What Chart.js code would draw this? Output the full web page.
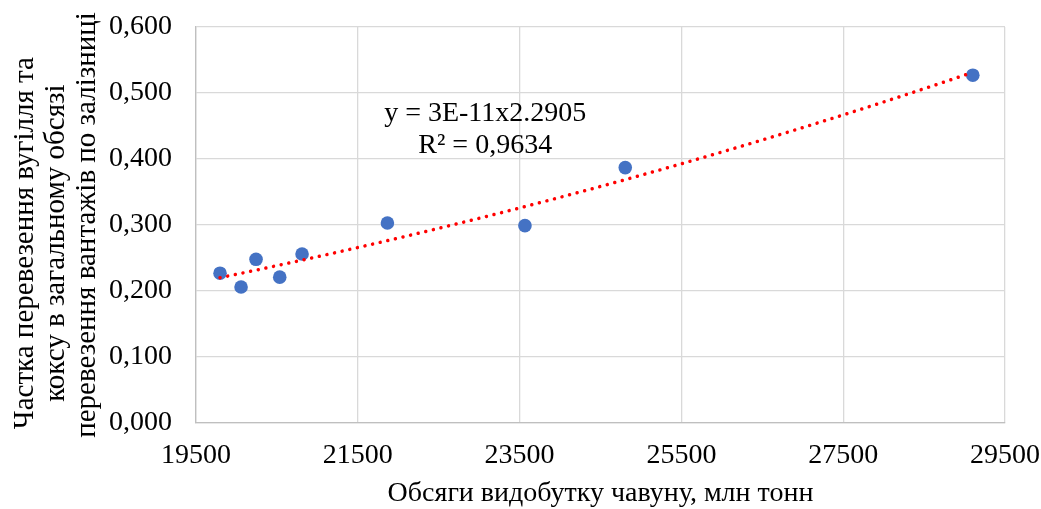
<!DOCTYPE html>
<html>
<head>
<meta charset="utf-8">
<script src="https://cdn.jsdelivr.net/npm/chart.js@4"></script>
<style>
html, body { margin: 0; padding: 0; background: #fff; }
#wrap { width: 1041px; height: 509px; }
</style>
</head>
<body>
<div id="wrap"><canvas id="chart"></canvas></div>
<script>
// обсяги видобутку чавуну (x) and частка вугілля/коксу (y)
const ironOutput = [19797, 20057, 20242, 20535, 20811, 21866, 23566, 24806, 29102];
const coalShare = [0.227, 0.206, 0.248, 0.221, 0.256, 0.303, 0.299, 0.387, 0.527];

const xTicks = [19500, 21500, 23500, 25500, 27500, 29500];
const yTicks = [0, 0.1, 0.2, 0.3, 0.4, 0.5, 0.6];

const xTitle = 'Обсяги видобутку чавуну, млн тонн';
const yTitle = ['Частка перевезення вугілля та     ', 'коксу в загальному обсязі     ', 'перевезення вантажів по залізниці'];
const eqText = ['y = 3E-11x2.2905', 'R² = 0,9634'];

// power trendline fitted on the points (log-log least squares)
let n = ironOutput.length, sx = 0, sy = 0, sxx = 0, sxy = 0;
for (let i = 0; i < n; i++) {
  const lx = Math.log(ironOutput[i]), ly = Math.log(coalShare[i]);
  sx += lx; sy += ly; sxx += lx * lx; sxy += lx * ly;
}
const pw = (n * sxy - sx * sy) / (n * sxx - sx * sx);
const coef = Math.exp((sy - pw * sx) / n);
const xMin = Math.min(...ironOutput), xMax = Math.max(...ironOutput);
let trend = [];
for (let k = 0; k <= 80; k++) {
  const x = xMin + (xMax - xMin) * k / 80;
  trend.push({ x: x, y: coef * Math.pow(x, pw) });
}

let points = [];
for (let i = 0; i < n; i++) {
  points.push({ x: ironOutput[i], y: coalShare[i] });
}

const FONT = "'Liberation Serif', 'Times New Roman', serif";
const txtFont = { family: FONT, size: 28, lineHeight: 1.1 };

// equation label, placed in data units
const eqPlugin = {
  id: 'eq',
  afterDatasetsDraw(chart) {
    const ctx = chart.ctx;
    const xs = chart.scales.x, ys = chart.scales.y;
    ctx.save();
    ctx.font = '28px ' + FONT;
    ctx.fillStyle = '#000';
    ctx.textAlign = 'center';
    ctx.textBaseline = 'middle';
    ctx.fillText(eqText[0], xs.getPixelForValue(23075), ys.getPixelForValue(0.469));
    ctx.fillText(eqText[1], xs.getPixelForValue(23075), ys.getPixelForValue(0.4205));
    ctx.restore();
  }
};

new Chart(document.getElementById('chart'), {
  type: 'scatter',
  data: {
    datasets: [
      {
        type: 'line',
        data: trend,
        borderColor: '#ff0000',
        borderWidth: 3.5,
        borderDash: [0.01, 7.8],
        borderCapStyle: 'round',
        pointRadius: 0,
        fill: false,
        tension: 0,
        order: 0
      },
      {
        data: points,
        backgroundColor: '#4472c4',
        borderWidth: 0,
        pointRadius: 6.8,
        order: 1
      }
    ]
  },
  options: {
    responsive: true,
    maintainAspectRatio: false,
    animation: false,
    layout: { padding: 0 },
    plugins: { legend: { display: false }, tooltip: { enabled: false } },
    scales: {
      x: {
        type: 'linear',
        min: 19500,
        max: 29500,
        afterBuildTicks: s => { s.ticks = xTicks.map(v => ({ value: v })); },
        afterFit: s => { s.height = 86; s.paddingLeft = 0; s.paddingRight = 36; },
        ticks: {
          padding: 17,
          color: '#000',
          font: txtFont,
          callback: v => String(v)
        },
        grid: { color: '#d9d9d9', lineWidth: 1.3, drawTicks: false },
        border: { color: '#bfbfbf', width: 1.3 },
        title: {
          display: true,
          text: xTitle,
          color: '#000',
          font: txtFont,
          padding: { top: 4, bottom: 0 }
        }
      },
      y: {
        min: 0,
        max: 0.6,
        afterBuildTicks: s => { s.ticks = yTicks.map(v => ({ value: v })); },
        afterFit: s => { s.width = 196; s.paddingTop = 27; s.paddingBottom = 0; },
        ticks: {
          padding: 24,
          color: '#000',
          font: txtFont,
          callback: v => v.toFixed(3).replace('.', ',')
        },
        grid: { color: '#d9d9d9', lineWidth: 1.3, drawTicks: false },
        border: { color: '#bfbfbf', width: 1.3 },
        title: {
          display: true,
          text: yTitle,
          color: '#000',
          font: { family: FONT, size: 29, lineHeight: 1.07 },
          padding: { top: 10, bottom: 0 }
        }
      }
    }
  },
  plugins: [eqPlugin]
});
</script>
</body>
</html>
